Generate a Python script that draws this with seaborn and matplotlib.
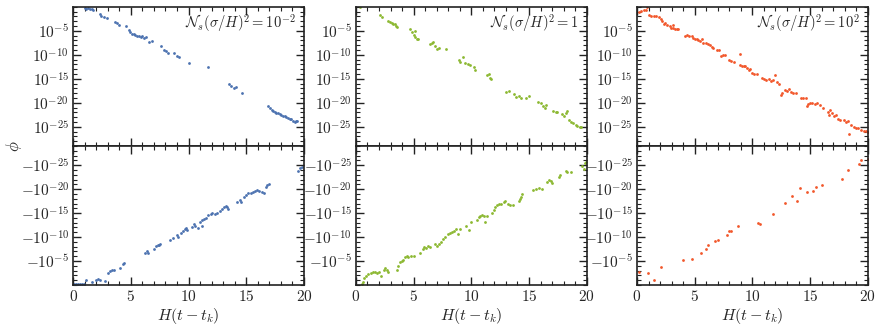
import numpy as np
import pandas as pd
import matplotlib
matplotlib.use('Agg')
import matplotlib.pyplot as plt
import matplotlib.ticker as mticker
import seaborn as sns

# values: time H(t - t_k) and log10|phi|
# ---- N_s (sigma/H)^2 = 1e-2 (blue)
t_pos_a = [1.0, 1.15, 1.3, 1.45, 1.6, 1.72, 2.36, 2.45, 2.67, 2.93, 3.65, 3.8, 3.97, 4.6,
           4.8, 4.95, 5.1, 5.25, 5.4, 5.55, 5.7, 5.85, 6.0, 6.15, 6.3, 6.6, 6.8,
           7.65, 7.85, 8.05, 8.2, 8.77, 8.97, 9.14, 10.06, 11.7, 13.5, 13.7, 13.9, 14.1, 14.65,
           16.9, 17.04, 17.19, 17.3, 17.45, 17.59, 17.76, 17.91, 18.05, 18.19, 18.34, 18.48,
           18.62, 18.77, 18.91, 19.06, 19.2, 19.34, 19.43]
lg_pos_a = [-0.2, -0.4, -0.3, -0.5, -0.4, -0.6, -1.5, -1.9, -2.2, -2.4, -3.1, -3.3, -3.7, -4.0,
            -4.9, -5.3, -5.6, -5.7, -5.8, -6.0, -6.1, -6.2, -6.0, -6.4, -6.2, -7.3, -7.1,
            -8.1, -9.0, -9.2, -9.6, -9.7, -10.2, -10.4, -11.8, -12.5, -16.1, -16.5, -17.0, -16.7, -17.9,
            -20.7, -21.05, -21.4, -21.66, -21.87, -22.08, -22.2, -22.35, -22.5, -22.7, -22.77, -23.05,
            -23.2, -23.4, -23.47, -23.74, -23.95, -23.74, -23.88]
t_neg_a = [0.06, 0.23, 0.4, 0.57, 0.75, 0.92, 1.09, 1.61, 1.95, 2.13, 2.3, 2.73, 3.02, 3.16, 3.33,
           3.56, 4.1, 4.31, 4.4, 6.26, 6.44, 6.49, 7.04, 7.18, 7.33, 7.47, 7.56, 8.42, 8.62, 8.97,
           9.08, 9.37, 9.54, 9.68, 9.77, 9.91, 10.26, 10.49, 10.57, 10.78, 10.98, 11.15, 11.2,
           11.35, 11.49, 11.72, 11.93, 12.07, 12.3, 12.5, 12.7, 12.87, 13.07, 13.22, 13.36, 13.45,
           14.22, 14.43, 14.57, 14.8, 14.94, 15.14, 15.37, 15.57, 15.8, 15.95, 16.09, 16.38, 16.52,
           16.67, 16.81, 16.95, 19.48, 19.68, 19.83]
lg_neg_a = [-0.15, -0.2, -0.15, -0.2, -0.25, -0.3, -1.1, -0.6, -1.1, -1.2, -1.1, -0.75, -2.5, -2.9, -3.1,
            -3.1, -3.55, -4.3, -4.6, -6.7, -7.0, -6.75, -7.5, -8.1, -8.4, -8.3, -8.6, -9.3, -9.9, -10.5,
            -10.0, -10.9, -11.3, -11.6, -11.8, -11.4, -12.1, -12.7, -12.3, -11.8, -13.2, -13.5, -12.3,
            -13.8, -14.0, -14.6, -14.9, -15.0, -14.9, -15.1, -15.5, -15.9, -16.2, -16.5, -16.3, -15.9,
            -17.3, -17.7, -17.3, -18.4, -18.7, -19.1, -19.2, -19.4, -19.6, -19.8, -19.6, -19.4, -19.1,
            -20.5, -20.8, -21.0, -23.8, -24.4, -24.65]

# ---- N_s (sigma/H)^2 = 1 (green)
t_pos_b = [0.35, 2.09, 2.23, 2.81, 2.96, 3.13, 3.25, 3.39, 3.48, 3.54, 4.7, 4.84, 4.99, 5.13, 5.28,
           5.42, 5.13, 6.43, 6.58, 6.72, 6.87, 7.01, 7.16, 7.8, 8.9, 9.04, 9.28, 9.48, 9.68, 9.91,
           10.2, 10.35, 11.36, 11.5, 11.6, 11.7, 13.04, 13.25, 13.68, 13.91, 14.12, 14.26, 14.7, 14.99,
           15.77, 16.0, 16.23, 16.38, 16.49, 17.1, 17.3, 17.45, 17.88, 18.03, 18.17, 18.32, 18.46,
           18.61, 18.84, 19.04, 19.19, 19.42, 19.54]
lg_pos_b = [-0.1, -1.7, -2.1, -2.9, -3.1, -3.3, -3.6, -3.5, -4.0, -4.2, -4.7, -5.2, -5.9, -6.2, -6.6,
            -6.7, -5.0, -7.8, -7.5, -7.3, -8.2, -8.7, -8.5, -8.8, -11.1, -11.4, -10.5, -11.6, -12.0, -12.1,
            -12.5, -13.2, -14.2, -14.0, -14.8, -15.1, -17.7, -17.5, -18.2, -18.7, -18.5, -19.1, -18.9, -18.6,
            -19.8, -20.1, -20.7, -21.0, -20.5, -21.7, -21.9, -21.9, -22.4, -22.8, -22.1, -21.7, -23.5,
            -23.95, -24.3, -24.6, -24.8, -25.0, -25.1]
t_neg_b = [0.49, 0.58, 0.7, 0.84, 1.07, 1.28, 1.45, 1.62, 1.8, 1.97, 2.14, 2.43, 2.55, 2.67, 2.78,
           3.54, 3.62, 3.83, 3.97, 4.12, 4.26, 4.41, 4.55, 4.75, 4.99, 5.57, 5.8, 5.91, 6.09, 6.23, 6.43,
           6.87, 7.01, 7.16, 7.36, 7.54, 7.74, 7.97, 8.12, 8.32, 8.52, 8.7, 8.81, 8.99, 9.57, 9.77, 9.97,
           10.49, 10.64, 10.78, 10.93, 11.07, 11.22, 11.36, 11.8, 11.94, 12.09, 12.23, 12.38, 12.58,
           12.81, 12.96, 13.16, 13.33, 13.57, 14.12, 14.2, 14.32, 14.41, 15.36, 15.57, 15.86, 16.14,
           16.58, 16.72, 16.87, 17.01, 17.59, 17.68, 18.17, 18.26, 18.61, 19.62, 19.77, 19.86, 19.91]
lg_neg_b = [-0.14, -0.6, -1.5, -1.95, -2.2, -2.5, -2.8, -2.65, -2.6, -2.65, -1.8, -3.1, -3.55, -3.05, -2.65,
            -3.2, -3.9, -4.8, -5.0, -5.3, -5.85, -6.0, -5.85, -6.0, -6.0, -6.7, -7.6, -7.9, -7.7, -8.2, -7.9,
            -8.6, -8.1, -8.5, -9.0, -9.7, -10.0, -10.6, -10.9, -11.1, -11.3, -11.6, -10.7, -11.6, -12.3, -11.4, -13.2,
            -13.5, -14.1, -14.3, -14.6, -14.3, -13.2, -14.4, -15.0, -15.6, -16.3, -16.6, -16.85, -17.0,
            -17.3, -17.5, -17.0, -16.6, -16.6, -17.5, -18.0, -18.4, -18.9, -19.8, -20.0, -20.3, -20.1,
            -21.5, -21.9, -21.7, -21.2, -22.6, -22.9, -23.8, -23.6, -23.5, -24.8, -24.1, -25.35, -25.7]

# ---- N_s (sigma/H)^2 = 1e2 (red)
t_pos_c = [0.17, 0.38, 0.58, 0.76, 0.87, 1.05, 1.25, 1.45, 1.69, 1.89, 2.06, 2.21, 2.41, 2.62, 2.85,
           2.99, 3.14, 3.28, 3.43, 3.58, 2.33, 3.08, 4.16, 4.36, 4.53, 4.74, 4.88, 5.03, 5.17, 5.32,
           5.47, 5.61, 5.76, 5.99, 6.19, 6.34, 6.48, 6.63, 6.92, 7.15, 7.27, 7.44, 7.65, 7.94, 8.14,
           8.37, 8.95, 8.95, 9.1, 9.24, 9.39, 9.53, 9.68, 9.83, 9.97, 10.17, 10.4, 10.84, 11.05, 11.22,
           11.42, 11.63, 11.8, 12.0, 12.15, 12.3, 12.44, 12.59, 12.79, 13.02, 13.17, 13.37, 13.55, 13.75,
           14.19, 14.42, 14.62, 14.71, 14.83, 15.0, 15.2, 15.41, 15.64, 15.87, 16.08, 16.51, 16.74,
           16.86, 16.66, 17.03, 17.24, 17.38, 17.62, 17.9, 18.11, 18.26, 18.4, 18.55, 18.78, 18.98,
           19.19, 19.42, 19.65, 19.85, 20.0]
lg_pos_c = [-1.0, -0.8, -0.7, -0.55, -0.1, -1.7, -1.8, -1.9, -2.0, -2.1, -2.45, -2.85, -3.35, -3.7, -4.0,
            -4.4, -4.5, -4.6, -4.7, -4.6, -3.5, -3.7, -6.0, -5.85, -6.0, -6.1, -6.4, -6.6, -6.8, -6.9,
            -7.1, -6.8, -7.5, -7.6, -7.8, -7.95, -8.3, -8.5, -9.0, -8.9, -10.3, -10.1, -10.1, -11.1, -11.2,
            -11.45, -9.9, -12.15, -12.35, -12.35, -12.35, -12.8, -13.2, -13.05, -13.75, -13.9, -13.9, -14.9, -15.1, -15.25,
            -15.1, -15.4, -15.25, -14.2, -15.6, -16.0, -18.4, -17.9, -17.35, -17.5, -17.2, -17.7, -18.05, -17.9,
            -19.1, -19.1, -19.1, -20.7, -20.3, -20.0, -20.1, -20.3, -20.0, -20.5, -21.0, -21.9, -21.5,
            -22.2, -22.55, -22.8, -22.55, -23.3, -23.5, -23.6, -23.95, -23.75, -26.5, -24.65, -25.0, -25.3,
            -25.3, -25.7, -25.8, -25.9, -26.0]
t_neg_c = [0.17, 0.99, 1.48, 2.12, 4.01, 4.74, 5.52, 5.99, 6.16, 6.8, 7.0, 7.79, 7.94, 8.14, 8.75,
           10.52, 10.64, 11.8, 12.82, 13.4, 13.9, 14.13, 14.77, 15.29, 15.52, 16.05, 17.73, 18.28,
           19.22, 19.42, 20.0]
lg_neg_c = [-2.7, -2.6, -1.1, -3.7, -5.3, -5.5, -6.75, -7.5, -8.35, -9.25, -9.4, -10.4, -11.3, -11.3, -12.4,
            -12.95, -12.7, -14.9, -17.1, -18.6, -17.5, -20.2, -19.4, -19.6, -20.5, -20.9, -22.2, -24.0,
            -25.2, -26.0, -26.2]

labels = [r'$\mathcal{N}_s(\sigma/H)^2 = 10^{-2}$',
          r'$\mathcal{N}_s(\sigma/H)^2 = 1$',
          r'$\mathcal{N}_s(\sigma/H)^2 = 10^{2}$']
colors = ['#4c72b0', '#8cb832', '#f2572b']

pos_sets = [(t_pos_a, lg_pos_a), (t_pos_b, lg_pos_b), (t_pos_c, lg_pos_c)]
neg_sets = [(t_neg_a, lg_neg_a), (t_neg_b, lg_neg_b), (t_neg_c, lg_neg_c)]

sns.set_style('ticks')
plt.rcParams['mathtext.fontset'] = 'cm'
plt.rcParams['font.family'] = ['DejaVu Serif']
plt.rcParams['axes.linewidth'] = 1.2

fig = plt.figure(figsize=(8.81, 3.28), dpi=100)
lefts = [0.083, 0.404, 0.723]
w = 0.262
y_mid, y_top, y_bot = 0.555, 0.979, 0.131


def style_axis(ax, negative):
    ax.set_yscale('log')
    ax.set_xlim(0, 20)
    if negative:
        ax.set_ylim(1, 1e-29)
    else:
        ax.set_ylim(1e-29, 1)
    ax.yaxis.set_major_locator(mticker.FixedLocator([10.0 ** e for e in (-25, -20, -15, -10, -5)]))
    ax.yaxis.set_minor_locator(mticker.FixedLocator([10.0 ** e for e in range(-29, 1)]))
    sign = '-' if negative else ''
    ax.yaxis.set_major_formatter(mticker.FuncFormatter(
        lambda v, p: r'$%s10^{%d}$' % (sign, round(np.log10(v)))))
    ax.yaxis.set_minor_formatter(mticker.NullFormatter())
    ax.xaxis.set_major_locator(mticker.MultipleLocator(5))
    ax.xaxis.set_minor_locator(mticker.MultipleLocator(1))
    ax.xaxis.set_major_formatter(mticker.FuncFormatter(lambda v, p: r'$%d$' % round(v)))
    ax.tick_params(which='both', direction='in', top=True, right=True, labelsize=11,
                   color='#222222', pad=3)
    ax.tick_params(which='major', length=6, width=1.0)
    ax.tick_params(which='minor', length=3, width=0.8)
    for s in ax.spines.values():
        s.set_color('#222222')


for i in range(3):
    ax_t = fig.add_axes([lefts[i], y_mid, w, y_top - y_mid])
    ax_b = fig.add_axes([lefts[i], y_bot, w, y_mid - y_bot])

    t, lg = pos_sets[i]
    df = pd.DataFrame({'t': t, 'phi': 10.0 ** np.array(lg)})
    sns.scatterplot(data=df, x='t', y='phi', ax=ax_t, color=colors[i], s=4,
                    linewidth=0, clip_on=True)

    t, lg = neg_sets[i]
    df = pd.DataFrame({'t': t, 'phi': 10.0 ** np.array(lg)})
    sns.scatterplot(data=df, x='t', y='phi', ax=ax_b, color=colors[i], s=4,
                    linewidth=0, clip_on=True)

    style_axis(ax_t, False)
    style_axis(ax_b, True)
    ax_t.set_xlabel('')
    ax_t.set_ylabel('')
    ax_t.tick_params(labelbottom=False)
    ax_b.set_ylabel('')
    ax_b.set_xlabel(r'$H(t-t_k)$', fontsize=11.5, labelpad=1)
    ax_t.text(0.965, 0.885, labels[i], transform=ax_t.transAxes, ha='right', va='center',
              fontsize=10.5)

fig.text(0.016, y_mid, r'$\phi$', rotation=90, ha='center', va='center', fontsize=12)

fig.savefig('out.png', dpi=100)
